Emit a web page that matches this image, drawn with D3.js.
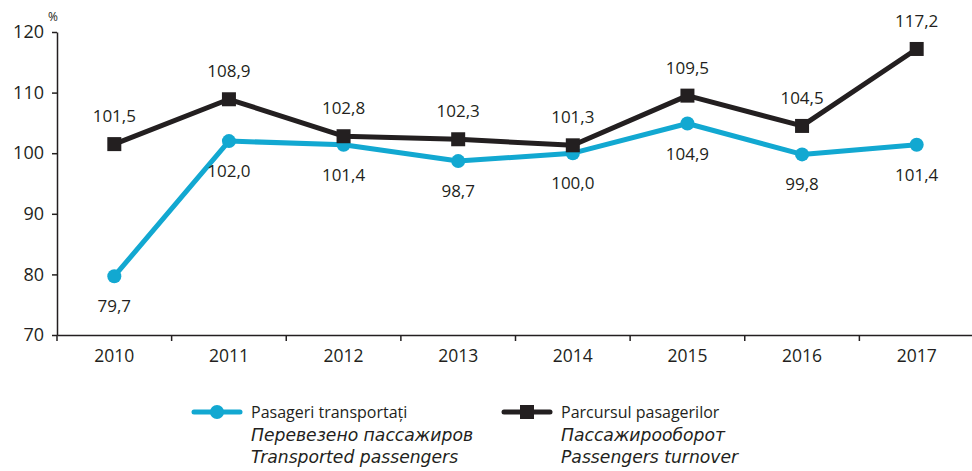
<!DOCTYPE html>
<html><head><meta charset="utf-8">
<script src="https://cdn.jsdelivr.net/npm/d3@7"></script>
<style>body{margin:0;background:#fff}svg{display:block}text{font-family:"Open Sans",sans-serif;fill:#231f20}</style>
</head><body><svg id="c" width="972" height="471"></svg>
<script>
const years = ["2010","2011","2012","2013","2014","2015","2016","2017"];
const transported = [79.7,102.0,101.4,98.7,100.0,104.9,99.8,101.4];
const turnover = [101.5,108.9,102.8,102.3,101.3,109.5,104.5,117.2];
const yTicks = [70,80,90,100,110,120];
const legendTransported = ["Pasageri transportați","Перевезено пассажиров","Transported passengers"];
const legendTurnover = ["Parcursul pasagerilor","Пассажирооборот","Passengers turnover"];

const blue = "#12a8d1", dark = "#231f20";
const svg = d3.select("#c");
const x = d3.scaleBand().domain(years).range([57, 974]);
const y = d3.scaleLinear().domain([70,120]).range([335, 32]);
const fmt = v => v.toFixed(1).replace(".", ",");

// y axis
const ya = svg.append("g").attr("transform","translate(57,0)")
  .call(d3.axisLeft(y).tickValues(yTicks).tickSize(5).tickSizeOuter(0).tickPadding(8));
ya.selectAll("text").style("font-size","18px").attr("fill",dark);
ya.selectAll("line,path").attr("stroke",dark).attr("stroke-width",1.5);
svg.append("text").attr("x",48).attr("y",21).style("font-size","12px").text("%");

// x axis
const xa = svg.append("g").attr("transform","translate(0,335)")
  .call(d3.axisBottom(x).tickSize(0).tickPadding(15));
xa.select("path").attr("stroke",dark).attr("stroke-width",1.5);
xa.selectAll("text").style("font-size","17.5px").attr("fill",dark);
xa.selectAll(".bt").data(years).enter().append("line")
  .attr("x1",d=>x(d)).attr("x2",d=>x(d)).attr("y1",0).attr("y2",6)
  .attr("stroke",dark).attr("stroke-width",1.5);
xa.append("line").attr("x1",x.range()[1]-1).attr("x2",x.range()[1]-1).attr("y1",0).attr("y2",6).attr("stroke",dark).attr("stroke-width",1.5);

const cx = d => x(d) + x.bandwidth()/2;
const line = d3.line().x((d,i)=>cx(years[i])).y(d=>y(d));

svg.append("path").datum(transported).attr("d",line).attr("fill","none").attr("stroke",blue).attr("stroke-width",5).attr("stroke-linejoin","round");
svg.append("path").datum(turnover).attr("d",line).attr("fill","none").attr("stroke",dark).attr("stroke-width",5).attr("stroke-linejoin","round");

svg.selectAll(".cm").data(transported).enter().append("circle")
  .attr("cx",(d,i)=>cx(years[i])).attr("cy",d=>y(d)).attr("r",7).attr("fill",blue);
svg.selectAll(".sm").data(turnover).enter().append("rect")
  .attr("x",(d,i)=>cx(years[i])-7).attr("y",d=>y(d)-7).attr("width",14).attr("height",14).attr("fill",dark);

svg.selectAll(".tl").data(transported).enter().append("text")
  .attr("x",(d,i)=>cx(years[i])).attr("y",d=>y(d)+36).attr("text-anchor","middle")
  .style("font-size","17px").text(fmt);
svg.selectAll(".ul").data(turnover).enter().append("text")
  .attr("x",(d,i)=>cx(years[i])).attr("y",d=>y(d)-22).attr("text-anchor","middle")
  .style("font-size","17px").text(fmt);

// legend
function legend(x0, color, isCircle, lines){
  const g = svg.append("g");
  g.append("line").attr("x1",x0).attr("x2",x0+46).attr("y1",412).attr("y2",412).attr("stroke",color).attr("stroke-width",5).attr("stroke-linecap","round");
  if(isCircle) g.append("circle").attr("cx",x0+23).attr("cy",412).attr("r",7).attr("fill",color);
  else g.append("rect").attr("x",x0+16).attr("y",405).attr("width",14).attr("height",14).attr("fill",color);
  lines.forEach((t,i)=>{
    g.append("text").attr("x",x0+57).attr("y",418+i*22+(i>0?1:0))
      .style("font-size",i>0?"17.2px":"16px")
      .style("font-family",i>0?"'DejaVu Sans',sans-serif":null)
      .style("font-style",i>0?"italic":"normal").text(t);
  });
}
legend(194, blue, true, legendTransported);
legend(504, dark, false, legendTurnover);
</script></body></html>
